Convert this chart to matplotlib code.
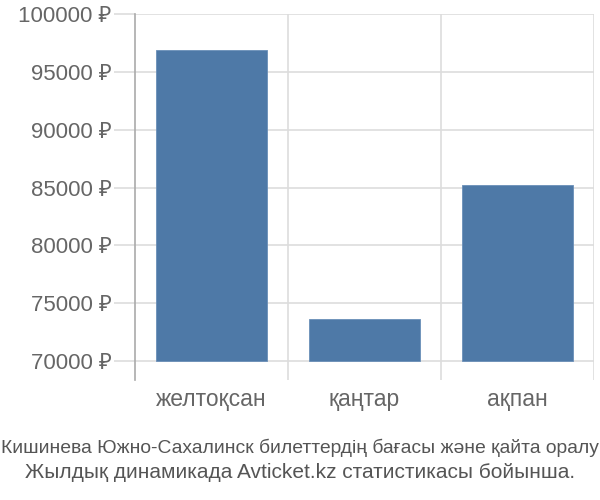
import matplotlib.pyplot as plt

# chart data
months = ["желтоқсан", "қаңтар", "ақпан"]
prices = [96900, 73600, 85200]
y_ticks = [70000, 75000, 80000, 85000, 90000, 95000, 100000]
caption_1 = "Кишинева Южно-Сахалинск билеттердің бағасы және қайта оралу"
caption_2 = "Жылдық динамикада Avticket.kz статистикасы бойынша."

base = y_ticks[0]
grid_col = "#dddddd"
text_col = "#666666"
fams = ["Liberation Sans", "Noto Sans", "DejaVu Sans"]

fig = plt.figure(figsize=(6, 5), dpi=100)
ax = fig.add_axes([0.225, 0.24, 0.765, 0.732])

heights = [p - base for p in prices]
ax.bar(range(len(months)), heights, bottom=base, width=0.72,
       color="#4e79a7", edgecolor="#6a8fb8", linewidth=0.6, zorder=3)

ax.set_xlim(-0.5, len(months) - 0.5)
ax.set_ylim(68360, 100000)

# vertical separators between categories
for x in [i + 0.5 for i in range(len(months))]:
    ax.axvline(x, color=grid_col, lw=1.2, zorder=1)

ax.set_yticks(y_ticks)
ax.set_yticklabels([f"{v} ₽" for v in y_ticks], fontsize=16,
                   color=text_col, family=fams)
ax.yaxis.grid(True, color=grid_col, lw=1.2, zorder=1)
ax.tick_params(axis="y", length=15, color=grid_col, width=1.2, pad=2)

ax.set_xticks(range(len(months)))
ax.set_xticklabels(months, fontsize=16.5, color=text_col, family=fams)
ax.tick_params(axis="x", length=0, pad=6)

for s in ["top", "right", "bottom"]:
    ax.spines[s].set_visible(False)
ax.spines["left"].set_color("#aaaaaa")
ax.spines["left"].set_linewidth(1.2)

# caption: first line is condensed, second normal width
fig.text(0.5, 0.105, caption_1, ha="center", va="center", fontsize=13.9,
         color="#555555", family=["Liberation Sans Narrow"] + fams)
fig.text(0.5, 0.054, caption_2, ha="center", va="center", fontsize=15,
         color="#555555", family=fams)

fig.savefig("out.png", dpi=100)
